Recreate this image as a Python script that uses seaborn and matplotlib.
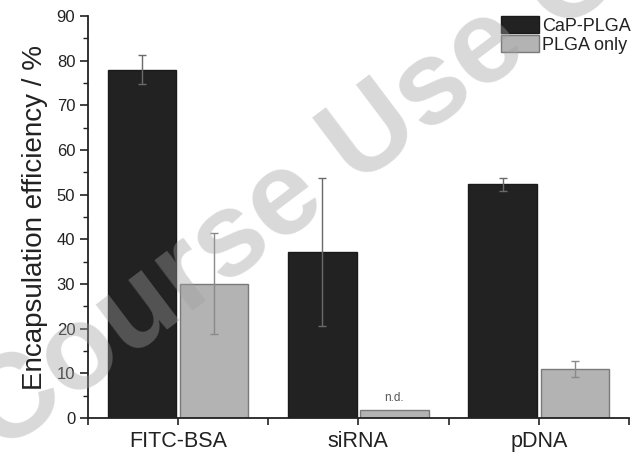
import pandas as pd
import numpy as np
import matplotlib
matplotlib.use('Agg')
import matplotlib.pyplot as plt
import seaborn as sns
from matplotlib.ticker import MultipleLocator, FixedLocator

# Values
samples = ['FITC-BSA', 'siRNA', 'pDNA']
groups = ['CaP-PLGA', 'PLGA only']
cap_plga = [78.0, 37.2, 52.3]
cap_plga_err = [3.3, 16.5, 1.4]
plga_only = [30.1, 1.9, 11.0]
plga_only_err = [11.3, 0.0, 1.7]

df = pd.DataFrame({
    'sample': samples * 2,
    'group': [groups[0]] * 3 + [groups[1]] * 3,
    'value': cap_plga + plga_only,
    'err': cap_plga_err + plga_only_err,
})

sns.set_style('ticks')
plt.rcParams['font.family'] = ['Liberation Sans', 'DejaVu Sans']

fig = plt.figure(figsize=(6.36, 4.54), dpi=100)
ax = fig.add_axes([0.138, 0.079, 0.851, 0.886])

fill_colors = {'CaP-PLGA': '#222222', 'PLGA only': '#b3b3b3'}
edge_colors = ['#1a1a1a', '#7a7a7a']
err_colors = ['#6a6a6a', '#8a8a8a']

sns.barplot(data=df, x='sample', y='value', hue='group', order=samples,
            hue_order=groups, palette=fill_colors, errorbar=None,
            width=0.8, gap=0.05, saturation=1, ax=ax)

# outline bars and add the measured error bars
bar_sets = list(ax.containers)
for i, cont in enumerate(bar_sets):
    vals = cap_plga if i == 0 else plga_only
    errs = cap_plga_err if i == 0 else plga_only_err
    xs = []
    for bar in cont.patches:
        bar.set_edgecolor(edge_colors[i])
        bar.set_linewidth(1.0)
        xs.append(bar.get_x() + bar.get_width() / 2)
    xs = np.array(xs)
    mask = np.array(errs) > 0
    ax.errorbar(xs[mask], np.array(vals)[mask], yerr=np.array(errs)[mask],
                fmt='none', ecolor=err_colors[i], elinewidth=1.0,
                capsize=3, capthick=1.0, zorder=3)
    if i == 1:
        for x, e in zip(xs, errs):
            if e == 0:
                ax.text(x, 3.2, 'n.d.', ha='center', va='bottom',
                        fontsize=8.5, color='#555555')

ax.set_ylim(0, 90)
ax.set_xlim(-0.5, 2.5)
ax.yaxis.set_major_locator(MultipleLocator(10))
ax.yaxis.set_minor_locator(MultipleLocator(5))
ax.xaxis.set_minor_locator(FixedLocator([-0.5, 0.5, 1.5, 2.5]))
ax.tick_params(axis='y', which='major', length=6, width=1.2, labelsize=12,
               colors='#222222', pad=3)
ax.tick_params(axis='y', which='minor', length=3.5, width=1.0, colors='#222222')
ax.tick_params(axis='x', which='both', length=5, width=1.2, labelsize=15.5,
               colors='#222222', pad=4)
for s in ['left', 'bottom']:
    ax.spines[s].set_linewidth(1.3)
    ax.spines[s].set_color('#222222')
sns.despine(ax=ax)

ax.set_xlabel('')
ax.set_ylabel('Encapsulation efficiency / %', fontsize=20, color='#222222',
              labelpad=6)

leg = ax.legend(loc='upper left', bbox_to_anchor=(0.763, 1.0),
                frameon=False, fontsize=13, handlelength=2.1,
                handleheight=1.1, labelspacing=0.0, handletextpad=0.2,
                borderpad=0, borderaxespad=0)
for h, ec in zip(leg.legend_handles, edge_colors):
    h.set_edgecolor(ec)
    h.set_linewidth(1.0)
for t in leg.get_texts():
    t.set_color('#222222')

# watermark across the figure
fig.text(0.578, 0.690, 'Course Use Only', fontsize=86, fontweight='bold',
         color='#a0a0a0', alpha=0.4, rotation=37, ha='center', va='center',
         zorder=10)

fig.savefig('out.png', dpi=100)
